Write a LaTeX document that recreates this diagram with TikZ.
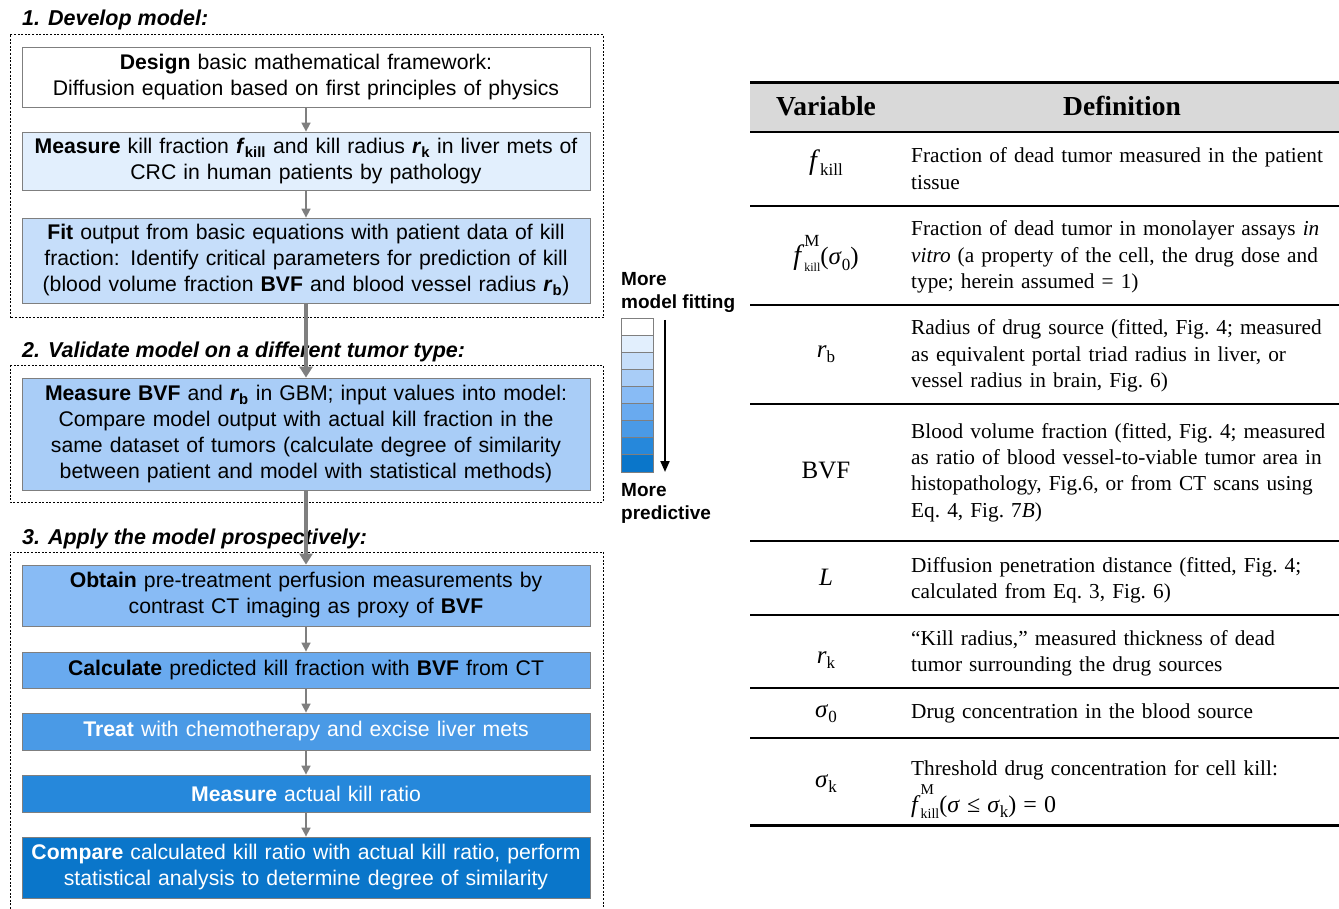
\documentclass[tikz,border=0pt]{standalone}
\usepackage{fontspec}
\setmainfont{Liberation Serif}
\setsansfont{Liberation Sans}
\usetikzlibrary{arrows.meta}
\definecolor{lvA}{HTML}{FFFFFF}
\definecolor{lvB}{HTML}{E2EFFD}
\definecolor{lvC}{HTML}{C6DEFA}
\definecolor{lvD}{HTML}{A9CDF7}
\definecolor{lvE}{HTML}{88BBF5}
\definecolor{lvF}{HTML}{69AAEF}
\definecolor{lvG}{HTML}{4A9AE6}
\definecolor{lvH}{HTML}{2688DB}
\definecolor{lvI}{HTML}{0A76CA}
\definecolor{boxline}{HTML}{7F7F7F}
\definecolor{arrgray}{HTML}{7F7F7F}
\definecolor{hdrgray}{HTML}{D9D9D9}
\newcommand{\bsub}[2]{\textbf{\textit{#1}}\textsubscript{\textbf{#2}}}
\newcommand{\vsub}[2]{#1\raisebox{-0.45ex}{\fontsize{17}{17}\selectfont #2}}
\newcommand{\vsubsup}[4]{#1\makebox[0pt][l]{\raisebox{0.75em}{\fontsize{#4}{#4}\selectfont M}}\raisebox{-0.55ex}{\fontsize{#3}{#3}\selectfont #2}}
\tikzset{
  flowbox/.style={draw=boxline, line width=0.8pt, minimum width=568pt, text width=564pt,
    align=center, inner sep=0pt, font=\sffamily\fontsize{21.2}{26}\selectfont},
  thinarrow/.style={draw=arrgray, line width=1.6pt, -{Triangle[length=9pt,width=9pt]}},
  thickarrow/.style={draw=arrgray, line width=3.5pt, -{Triangle[length=11pt,width=13pt]}},
  groupbox/.style={draw=black, line width=1pt, dash pattern=on 2pt off 1.6pt},
  grouptitle/.style={anchor=base west, inner sep=0pt, font=\sffamily\bfseries\itshape\fontsize{21.5}{24}\selectfont},
  legtext/.style={anchor=base west, inner sep=0pt, font=\sffamily\bfseries\fontsize{19}{22}\selectfont},
  legcell/.style={draw=boxline, line width=0.8pt},
  hdr/.style={anchor=base, inner sep=0pt, font=\bfseries\fontsize{27.5}{30}\selectfont},
  varcell/.style={anchor=base, inner sep=0pt, font=\fontsize{25}{30}\selectfont},
  defcell/.style={anchor=base west, inner sep=0pt, text width=428pt, align=left, font=\fontsize{21.3}{26.4}\selectfont},
  thickrule/.style={line width=3pt},
  thinrule/.style={line width=1.4pt}
}
\begin{document}
\begin{tikzpicture}[x=1pt,y=-1pt]
\useasboundingbox (0,0) rectangle (1339,909);
% ---------- group frames and titles ----------
\draw[groupbox] (10,35) rectangle (603,318);
\draw[groupbox] (10,365) rectangle (603,502);
\draw[groupbox] (10,909) -- (10,552) -- (603,552) -- (603,909);
\node[grouptitle] (t1) at (22,26) {1. Develop model:};
\node[grouptitle] (t2) at (22,358) {2. Validate model on a different tumor type:};
\node[grouptitle] (t3) at (22,544) {3. Apply the model prospectively:};
% ---------- flow boxes ----------
\node[flowbox, fill=lvA, minimum height=60pt] (A) at (306,77)
  {\textbf{Design} basic mathematical framework:\\Diffusion equation based on first principles of physics};
\node[flowbox, fill=lvB, minimum height=58pt] (B) at (306,161)
  {\textbf{Measure} kill fraction \bsub{f}{kill} and kill radius \bsub{r}{k} in liver mets of\\CRC in human patients by pathology};
\node[flowbox, fill=lvC, minimum height=85pt] (C) at (306,260.5)
  {\textbf{Fit} output from basic equations with patient data of kill\\fraction: Identify critical parameters for prediction of kill\\(blood volume fraction \textbf{BVF} and blood vessel radius \bsub{r}{b})};
\node[flowbox, fill=lvD, minimum height=112pt] (D) at (306,434)
  {\textbf{Measure BVF} and \bsub{r}{b} in GBM; input values into model:\\Compare model output with actual kill fraction in the\\same dataset of tumors (calculate degree of similarity\\between patient and model with statistical methods)};
\node[flowbox, fill=lvE, minimum height=61pt] (E) at (306,595.5)
  {\textbf{Obtain} pre-treatment perfusion measurements by\\contrast CT imaging as proxy of \textbf{BVF}};
\node[flowbox, fill=lvF, minimum height=36pt] (F) at (306,670)
  {\textbf{Calculate} predicted kill fraction with \textbf{BVF} from CT};
\node[flowbox, fill=lvG, minimum height=37pt, text=white] (G) at (306,731.5)
  {\textbf{Treat} with chemotherapy and excise liver mets};
\node[flowbox, fill=lvH, minimum height=37pt, text=white] (H) at (306,793.5)
  {\textbf{Measure} actual kill ratio};
\node[flowbox, fill=lvI, minimum height=61pt, text=white] (I) at (306,867.5)
  {\textbf{Compare} calculated kill ratio with actual kill ratio, perform\\statistical analysis to determine degree of similarity};
% ---------- connectors ----------
\draw[thinarrow] (A.south) -- (B.north);
\draw[thinarrow] (B.south) -- (C.north);
\draw[thickarrow] (C.south) -- (D.north);
\draw[thickarrow] (D.south) -- (E.north);
\draw[thinarrow] (E.south) -- (F.north);
\draw[thinarrow] (F.south) -- (G.north);
\draw[thinarrow] (G.south) -- (H.north);
\draw[thinarrow] (H.south) -- (I.north);
% ---------- legend ----------
\node[legtext] (m1) at (621,286) {More};
\node[legtext] (m2) at (621,309) {model fitting};
\node[legtext] (m3) at (621,496) {More};
\node[legtext] (m4) at (621,519) {predictive};
\foreach \c [count=\i from 0] in {lvA,lvB,lvC,lvD,lvE,lvF,lvG,lvH,lvI}{
  \draw[legcell, fill=\c] (621,{318+17.1*\i}) rectangle (653,{318+17.1*(\i+1)});
}
\coordinate (la) at (665,320);
\coordinate (lb) at (665,472);
\draw[line width=2pt, -{Triangle[length=11pt,width=9pt]}] (la) -- (lb);
% ---------- table ----------
\fill[hdrgray] (750,84) rectangle (1339,131);
\draw[thickrule] (750,83) -- (1339,83);
\draw[thinrule] (750,132) -- (1339,132);
\draw[thinrule] (750,206) -- (1339,206);
\draw[thinrule] (750,305) -- (1339,305);
\draw[thinrule] (750,404) -- (1339,404);
\draw[thinrule] (750,541) -- (1339,541);
\draw[thinrule] (750,615) -- (1339,615);
\draw[thinrule] (750,688) -- (1339,688);
\draw[thinrule] (750,738) -- (1339,738);
\draw[thickrule] (750,825) -- (1339,825);
\node[hdr] (h1) at (826,116) {Variable};
\node[hdr] (h2) at (1122,116) {Definition};
% variables
\node[varcell] (v1) at (826,170) {\vsub{{\fontsize{28}{30}\selectfont\textit{f}}}{kill}};
\node[varcell] (v2) at (826,265) {\vsubsup{{\fontsize{28}{30}\selectfont\textit{f}}}{kill}{12}{17}(\vsub{\textit{σ}}{0})};
\node[varcell] (v3) at (826,357) {\vsub{\textit{r}}{b}};
\node[varcell] (v4) at (826,478) {BVF};
\node[varcell] (v5) at (826,585) {\textit{L}};
\node[varcell] (v6) at (826,663) {\vsub{\textit{r}}{k}};
\node[varcell] (v7) at (826,717) {\vsub{\textit{σ}}{0}};
\node[varcell] (v8) at (826,787) {\vsub{\textit{σ}}{k}};
% definitions
\node[defcell] (d1) at (911,163) {Fraction of dead tumor measured in the patient\\tissue};
\node[defcell] (d2) at (911,236) {Fraction of dead tumor in monolayer assays \textit{in}\\\textit{vitro} (a property of the cell, the drug dose and\\type; herein assumed = 1)};
\node[defcell] (d3) at (911,335) {Radius of drug source (fitted, Fig.~4; measured\\as equivalent portal triad radius in liver, or\\vessel radius in brain, Fig.~6)};
\node[defcell] (d4) at (911,438) {Blood volume fraction (fitted, Fig.~4; measured\\as ratio of blood vessel-to-viable tumor area in\\histopathology, Fig.6, or from CT scans using\\Eq.~4, Fig.~7\textit{B})};
\node[defcell] (d5) at (911,572) {Diffusion penetration distance (fitted, Fig.~4;\\calculated from Eq.~3, Fig.~6)};
\node[defcell] (d6) at (911,645) {“Kill radius,” measured thickness of dead\\tumor surrounding the drug sources};
\node[defcell] (d7) at (911,718) {Drug concentration in the blood source};
\node[defcell] (d8) at (911,775) {Threshold drug concentration for cell kill:\\[4pt]{\fontsize{24}{26}\selectfont\vsubsup{\textit{f}}{kill}{14}{15}(\textit{σ} ≤ \vsub{\textit{σ}}{k}) = 0}};
\end{tikzpicture}
\end{document}
